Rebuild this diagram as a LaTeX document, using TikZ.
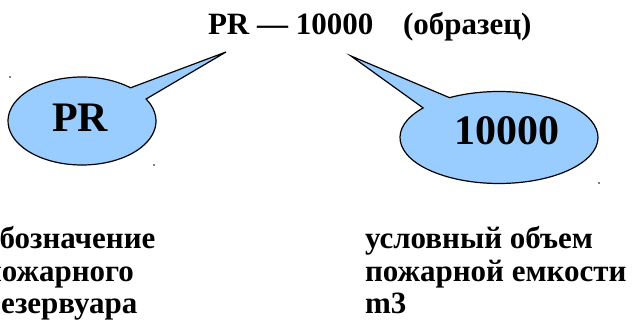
\documentclass[tikz,border=0pt]{standalone}
\usepackage{fontspec}
\setmainfont{Liberation Serif}
\usetikzlibrary{calc}
\begin{document}
\begin{tikzpicture}[x=1pt,y=1pt,
  bubble/.style={draw=black,line width=1.2pt,fill=bubblefill,line join=miter},
  txt/.style={inner sep=0pt,outer sep=0pt,font=\bfseries\fontsize{31}{33}\selectfont},
  big/.style={inner sep=0pt,outer sep=0pt,font=\bfseries\fontsize{42}{44}\selectfont},
  speck/.style={fill=black}]
\definecolor{bubblefill}{HTML}{99CCFF}
\useasboundingbox (0,0) rectangle (638,327);
\clip (0,0) rectangle (638,327);
% title
\node[txt,anchor=base west] (code) at (208,292) {PR — 10000};
\node[txt,anchor=base west] (sample) at (403,292) {(образец)};
% left callout
\coordinate (tipL) at (226,275);
\draw[bubble] (tipL) -- ($(82,206)+(49:74 and 44)$) arc[start angle=49,end angle=390,x radius=74,y radius=44] -- cycle;
% right callout
\coordinate (tipR) at (351,271);
\draw[bubble] (tipR) -- ($(499,189.5)+(140:99 and 46)$) arc[start angle=140,end angle=480,x radius=99,y radius=46] -- cycle;
\node[big,anchor=base] (pr) at (80,195) {PR};
\node[big,anchor=base] (vol) at (507,182) {10000};
% small specks
\fill[speck] (10,250) circle (0.9);
\fill[speck] (154,162) circle (0.9);
\fill[speck] (599,144) circle (0.9);
% captions (base anchor = last line)
\node[txt,anchor=base west,align=left] (capL) at (-16,13) {обозначение\\пожарного\\резервуара};
\node[txt,anchor=base west,align=left] (capR) at (365,13) {условный объем\\пожарной емкости\\m3};
\end{tikzpicture}
\end{document}
